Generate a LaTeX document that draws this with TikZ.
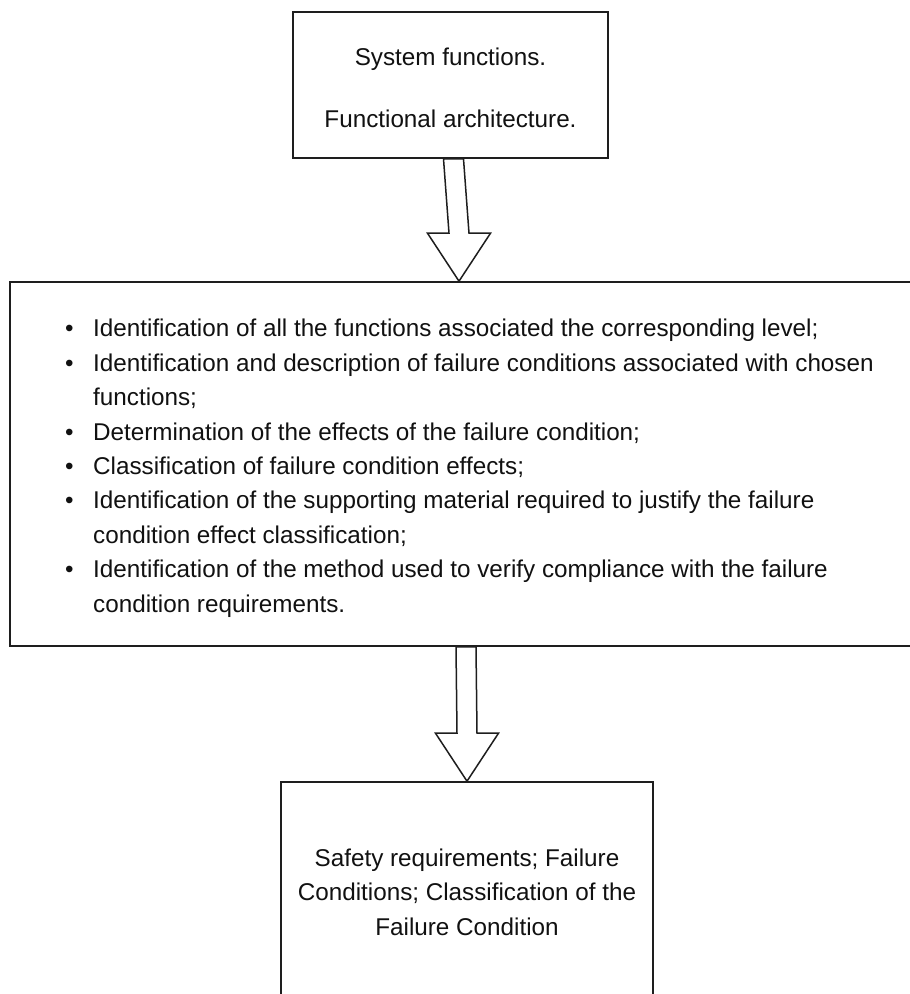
\documentclass[tikz,border=0pt]{standalone}
\usepackage{fontspec}
\setmainfont{Liberation Sans}
\usetikzlibrary{calc}

\definecolor{linec}{HTML}{1E1E1E}
\definecolor{textc}{HTML}{111111}

\tikzset{
  box/.style={draw=linec, line width=1.6pt, fill=white, inner sep=0pt, rectangle},
  txt/.style={font=\fontsize{24.25}{34.4}\selectfont, text=textc, inner sep=0pt},
  barrow/.style={draw=linec, line width=1.5pt, fill=white, line join=miter},
}

% bullet item and its continuation line
\newcommand\itm[1]{\makebox[28pt][l]{\textbullet}#1}
\newcommand\cont[1]{\hspace*{28pt}#1}

% hollow block arrow: #1 centre of the shaft's top, #2 tip
\newcommand\hollowarrow[2]{%
  \draw[barrow] ($(#1)+(-10,0)$) -- ($(#2)+(-10,48)$) -- ($(#2)+(-31.5,48)$)
    -- (#2) -- ($(#2)+(31.5,48)$) -- ($(#2)+(10,48)$) -- ($(#1)+(10,0)$) -- cycle;}

\begin{document}
\begin{tikzpicture}[x=1pt, y=1pt]
  \useasboundingbox (0,0) rectangle (910,-994);
  \clip (0,0) rectangle (910,-994);

  % input box
  \node[box, minimum width=315pt, minimum height=146pt] (top) at (450.5,-85) {};
  \node[txt, align=center, anchor=base] (toptext) at (450.5,-127)
    {System functions.\\[27.6pt]Functional architecture.};

  % analysis box with the list of activities
  \node[box, minimum width=915pt, minimum height=364pt] (mid) at (467.5,-464) {};
  \node[txt, align=left, anchor=base west] (items) at (65,-612)
    {\itm{Identification of all the functions associated the corresponding level;}\\
     \itm{Identification and description of failure conditions associated with chosen}\\
     \cont{functions;}\\
     \itm{Determination of the effects of the failure condition;}\\
     \itm{Classification of failure condition effects;}\\
     \itm{Identification of the supporting material required to justify the failure}\\
     \cont{condition effect classification;}\\
     \itm{Identification of the method used to verify compliance with the failure}\\
     \cont{condition requirements.}};

  % output box
  \node[box, minimum width=372pt, minimum height=220pt] (bot) at (467,-892) {};
  \node[txt, align=center, anchor=base] (bottext) at (467,-935)
    {Safety requirements; Failure\\Conditions; Classification of the\\Failure Condition};

  % block arrows between the boxes
  \coordinate (a1s) at ($(top.south)+(3,0)$);
  \coordinate (a1t) at (mid.north -| 459,0);
  \coordinate (a2s) at (mid.south -| 466,0);
  \coordinate (a2t) at (bot.north -| 467,0);
  \hollowarrow{a1s}{a1t}
  \hollowarrow{a2s}{a2t}
\end{tikzpicture}
\end{document}
